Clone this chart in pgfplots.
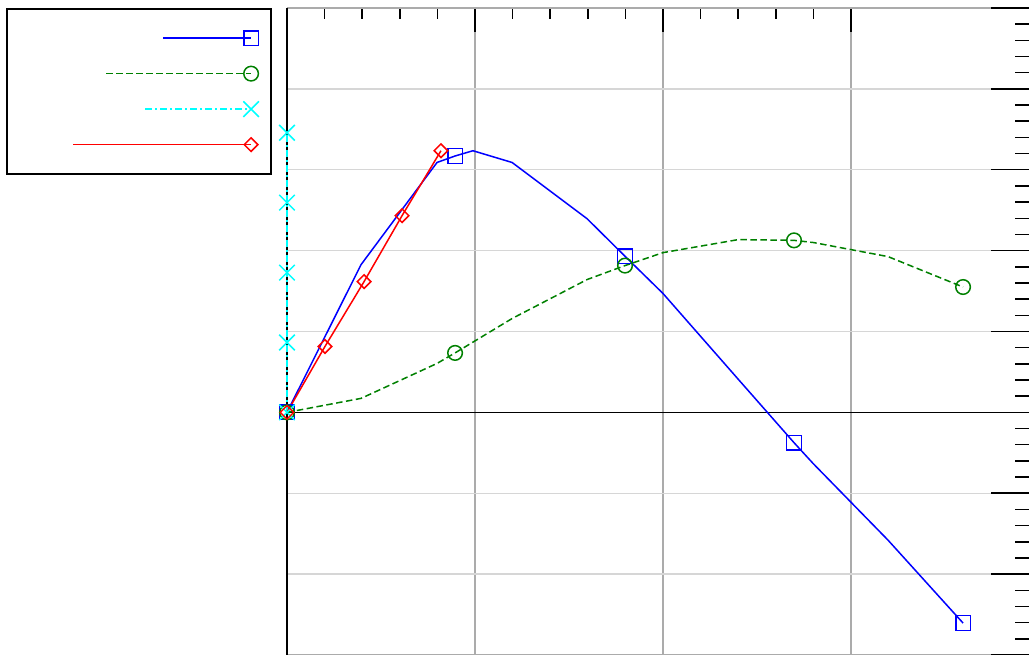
\documentclass[border=0pt]{standalone}
\usepackage{pgfplots}
\pgfplotsset{compat=1.18}
\definecolor{vgrid}{HTML}{ABABAB}
\definecolor{hgrid}{HTML}{D6D6D6}
\definecolor{mgreen}{RGB}{0,128,0}
\definecolor{mblue}{RGB}{0,0,255}
\definecolor{mred}{RGB}{255,0,0}
\definecolor{mcyan}{RGB}{0,255,255}
\pgfplotsset{
 blueleg/.style={legend image code/.code={%
  \path[draw=none,fill=none] (-244pt,-17.75pt) rectangle (19pt,17.75pt);
  \draw[mblue, solid, line width=1.5pt] (-88pt,0pt) -- (0pt,0pt);
  \draw[mblue, solid, line width=1.5pt] (-7.3pt,-7.3pt) rectangle (7.3pt,7.3pt);}},
 greenleg/.style={legend image code/.code={%
  \path[draw=none,fill=none] (-244pt,-17.75pt) rectangle (19pt,17.75pt);
  \draw[mgreen, line width=1.5pt, dash pattern=on 6.5pt off 3.5pt] (-145pt,0pt) -- (0pt,0pt);
  \draw[mgreen, solid, line width=1.5pt] (0pt,0pt) circle (7.3pt);}},
 cyanleg/.style={legend image code/.code={%
  \path[draw=none,fill=none] (-244pt,-17.75pt) rectangle (19pt,17.75pt);
  \draw[mcyan, line width=1.5pt, dash pattern=on 7pt off 3pt on 2pt off 3pt] (-106pt,0pt) -- (0pt,0pt);
  \draw[mcyan, solid, line width=1.5pt] (-7.8pt,-7.8pt) -- (7.8pt,7.8pt) (-7.8pt,7.8pt) -- (7.8pt,-7.8pt);}},
 redleg/.style={legend image code/.code={%
  \path[draw=none,fill=none] (-244pt,-17.75pt) rectangle (19pt,17.75pt);
  \draw[mred, solid, line width=1.5pt] (-178pt,0pt) -- (0pt,0pt);
  \draw[mred, solid, line width=1.5pt] (0pt,6.8pt) -- (6.8pt,0pt) -- (0pt,-6.8pt) -- (-6.8pt,0pt) -- cycle;}},
}
\begin{document}
\begin{tikzpicture}
\useasboundingbox (0,0) rectangle (1029pt,655pt);
\begin{axis}[
  at={(287pt,0pt)}, anchor=south west,
  scale only axis, width=742pt, height=647pt,
  xmin=0, xmax=3.9468, ymin=-3, ymax=5,
  clip=false,
  separate axis lines,
  x axis line style={vgrid, line width=1.4pt},
  y axis line style={draw=none},
  xtick={0,1,2,3}, minor x tick num=4, xtick pos=right, tick align=inside,
  major tick length=24pt, minor tick length=11pt,
  xticklabels={}, yticklabels={},
  ytick={-3,-2,...,5}, ytick style={draw=none},
  xmajorgrids, ymajorgrids,
  x grid style={vgrid, line width=1.4pt},
  y grid style={hgrid, line width=1.4pt},
  extra x ticks={0}, extra x tick labels={},
  extra x tick style={grid=major, x grid style={black, line width=1.6pt}, major grid style={black, line width=1.6pt}},
  extra y ticks={0}, extra y tick labels={},
  extra y tick style={grid=major, y grid style={black, line width=1.6pt}, major grid style={black, line width=1.6pt}},
  tick style={black, line width=1.5pt},
  legend style={at={(axis description cs:0,1)}, anchor=north east, xshift=-15pt,
    draw=black, line width=1.8pt, inner xsep=0pt, inner ysep=11.5pt, row sep=0pt, column sep=0pt,
    nodes={inner sep=0pt}},
]
\addplot[mblue, line width=1.5pt, mark=square, mark size=7.3pt, mark options={solid},
  mark indices={1,4,8,11,14}, blueleg] coordinates {
(0,0) (0.394,1.827) (0.798,3.09) (0.894,3.17) (0.989,3.235) (1.197,3.09) (1.596,2.395)
(1.798,1.93) (2.0,1.47) (2.4,0.41) (2.697,-0.375) (2.8,-0.636) (3.197,-1.58) (3.596,-2.605)};
\addlegendentry{}
\addplot[mgreen, line width=1.5pt, dash pattern=on 6.5pt off 3.5pt, mark=o, mark size=7.3pt,
  mark options={solid}, mark indices={1,4,7,10,13}, greenleg] coordinates {
(0,0) (0.394,0.173) (0.798,0.605) (0.894,0.735) (1.197,1.16) (1.596,1.642) (1.798,1.815)
(2.0,1.975) (2.4,2.136) (2.697,2.127) (2.8,2.10) (3.197,1.926) (3.596,1.55)};
\addlegendentry{}
\addplot[mcyan, line width=1.5pt, dash pattern=on 7pt off 3pt on 2pt off 3pt, mark=x, mark size=11pt,
  mark options={solid}, cyanleg] coordinates {
(0,0) (0,0.864) (0,1.728) (0,2.593) (0,3.457)};
\addlegendentry{}
\addplot[mred, line width=1.5pt, mark=square, mark size=4.8pt, mark options={solid, rotate=45},
  redleg] coordinates {
(0,0) (0.202,0.815) (0.41,1.617) (0.612,2.432) (0.819,3.235)};
\addlegendentry{}
\end{axis}
\begin{axis}[
  at={(287pt,0pt)}, anchor=south west,
  scale only axis, width=742pt, height=647pt,
  xmin=0, xmax=3.9468, ymin=-3, ymax=5,
  axis line style={draw=none},
  xtick=\empty,
  ytick={-3,-2,...,5}, minor y tick num=4, ytick pos=right, tick align=inside,
  major tick length=38pt, minor tick length=14pt,
  yticklabels={},
  tick style={black, line width=1.5pt},
]
\end{axis}
\end{tikzpicture}
\end{document}
